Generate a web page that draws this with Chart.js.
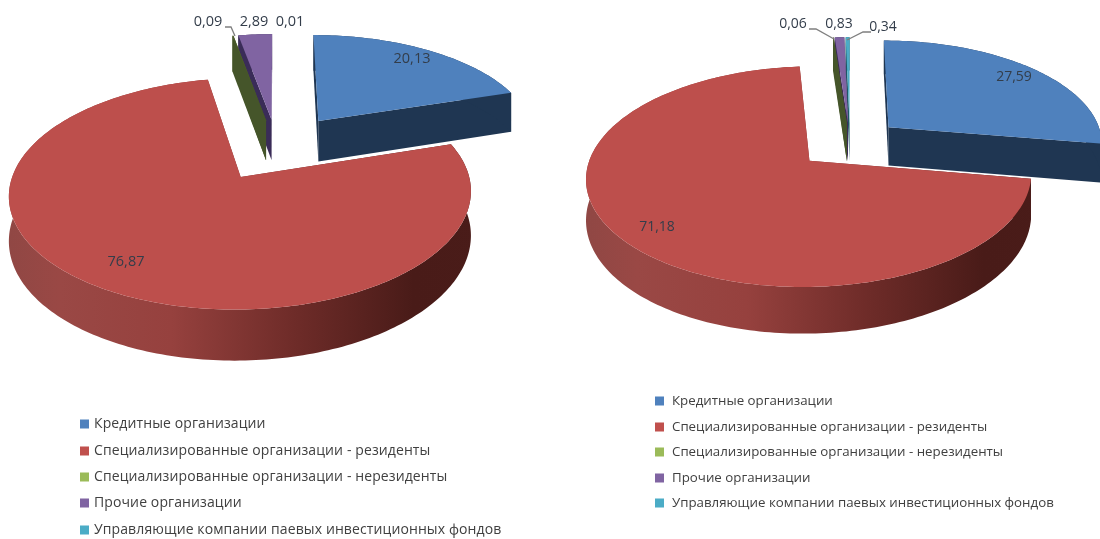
<!DOCTYPE html>
<html><head><meta charset="utf-8">
<style>
html,body{margin:0;padding:0;background:#fff;width:1100px;height:539px;overflow:hidden}
canvas{position:absolute;top:0;filter:blur(0.45px)}
#a{left:0}#b{left:575px}
</style>
<script src="https://cdn.jsdelivr.net/npm/chart.js@4"></script>
</head><body>
<canvas id="a" width="575" height="539"></canvas>
<canvas id="b" width="525" height="539"></canvas>
<script>
const categories = ["Кредитные организации","Специализированные организации - резиденты","Специализированные организации - нерезиденты","Прочие организации","Управляющие компании паевых инвестиционных фондов"];
const valuesLeft = [20.13,76.87,0.09,2.89,0.01];
const valuesRight = [27.59,71.18,0.06,0.83,0.34];
const valueTextLeft = ["20,13","76,87","0,09","2,89","0,01"];
const valueTextRight = ["27,59","71,18","0,06","0,83","0,34"];
const colors = ["#4f81bd","#c0504d","#9bbb59","#8064a2","#4bacc6"];
const topColors = ["#4f81bd","#bd4f4c","#4b5c28","#8064a2","#4bacc6"];
const wallColors = ["#1f3652",null,"#45552a","#3a2c58","#1f5666"];

function plugin(cfg){return {id:'pie3d',
 beforeDatasetsDraw(chart){
  const ctx=chart.ctx, els=chart.getDatasetMeta(0).data;
  const proj=(u,v,down=0)=>{const s=1/(1-cfg.p*v);return [cfg.cx+cfg.A*u*s, cfg.cy+cfg.B*v*s+down*cfg.d*s];};
  const slices=els.map((el,i)=>{
    const a0=el.startAngle,a1=el.endAngle,b=(a0+a1)/2,o=el.options.offset/100;
    const ou=o*Math.cos(b),ov=o*Math.sin(b);
    const arc=[];
    const n=Math.max(2,Math.ceil((a1-a0)/0.02));
    for(let k=0;k<=n;k++){const t=a0+(a1-a0)*k/n;arc.push([ou+Math.cos(t),ov+Math.sin(t)]);}
    return {i,b,arc,apex:[ou,ov],span:a1-a0};
  }).sort((x,y)=>Math.sin(x.b)-Math.sin(y.b));
  const poly=(P)=>{ctx.beginPath();P.forEach((q,k)=>k?ctx.lineTo(q[0],q[1]):ctx.moveTo(q[0],q[1]));ctx.closePath();ctx.fill();};
  for(const s of slices){
   if(s.span<0.001) continue;
   let wall=wallColors[s.i];
   if(!wall){const g=ctx.createLinearGradient(cfg.cx-cfg.A*1.25,0,cfg.cx+cfg.A*0.95,0);
    g.addColorStop(0,'#8f4744');g.addColorStop(0.12,'#9a4845');g.addColorStop(0.35,'#96413e');g.addColorStop(0.6,'#6f2c29');g.addColorStop(0.85,'#491b18');g.addColorStop(1,'#4a1c19');wall=g;}
   ctx.fillStyle=wall;
   const first=s.arc[0],last=s.arc[s.arc.length-1];
   const quad=(p,q)=>poly([proj(p[0],p[1]),proj(q[0],q[1]),proj(q[0],q[1],1),proj(p[0],p[1],1)]);
   quad(s.apex,first);quad(last,s.apex);
   poly([...s.arc.map(p=>proj(p[0],p[1])),...s.arc.slice().reverse().map(p=>proj(p[0],p[1],1))]);
   ctx.fillStyle=topColors[s.i];
   poly([proj(s.apex[0],s.apex[1]),...s.arc.map(p=>proj(p[0],p[1]))]);
  }
  return false;
 },
 afterDraw(chart){
  const ctx=chart.ctx;ctx.save();
  ctx.strokeStyle='#7f7f7f';ctx.lineWidth=1.3;
  for(const l of cfg.leaders){ctx.beginPath();l.forEach((P,k)=>k?ctx.lineTo(P[0],P[1]):ctx.moveTo(P[0],P[1]));ctx.stroke();}
  ctx.textBaseline='middle';ctx.textAlign='center';ctx.fillStyle='#333d4a';
  ctx.font=cfg.valueFont;
  cfg.text.forEach((t,i)=>ctx.fillText(t,cfg.labelPos[i][0],cfg.labelPos[i][1]));
  ctx.textAlign='left';ctx.font=cfg.legendFont;ctx.letterSpacing=cfg.legendSpacing;
  chart.data.labels.forEach((t,i)=>{
   const y=cfg.legendY[i];
   ctx.fillStyle=colors[i];ctx.fillRect(cfg.boxX,y-4.5,9,9);
   ctx.fillStyle='#404040';ctx.fillText(t,cfg.textX,y);
  });
  ctx.restore();
 }};}

function make(id,vals,cfg,offs){
 new Chart(document.getElementById(id),{type:'pie',
  data:{labels:categories,datasets:[{data:vals,backgroundColor:colors,borderWidth:0,offset:offs}]},
  options:{responsive:false,animation:false,layout:{padding:0},plugins:{legend:{display:false},tooltip:{enabled:false}}},
  plugins:[plugin(cfg)]});
}
make('a',valuesLeft,{cx:277,cy:148,A:220,B:105,p:0.14,d:42,text:valueTextLeft,
  labelPos:[[412,59],[126,262],[208,22],[254,22],[290,22]],
  leaders:[[[225,27],[231,27],[235,36]]],
  valueFont:'14.5px "Open Sans"',legendFont:'14px "Open Sans"',legendSpacing:'0.11px',
  boxX:80,textX:94,legendY:[424,451,477,503,530]},[33,31,28,28,28]);
make('b',valuesRight,{cx:275,cy:143,A:215,B:103,p:0.14,d:39,text:valueTextRight,
  labelPos:[[439,77],[82,227],[218,24],[264,24],[308,27]],
  leaders:[[[234,29],[241,29],[259,39]],[[296,32],[288,32],[272,40]]],
  valueFont:'14px "Open Sans"',legendFont:'13.3px "Open Sans"',legendSpacing:'0px',
  boxX:80,textX:97,legendY:[401,427,452,478,503]},[24,25,20,20,20]);
</script>
</body></html>
